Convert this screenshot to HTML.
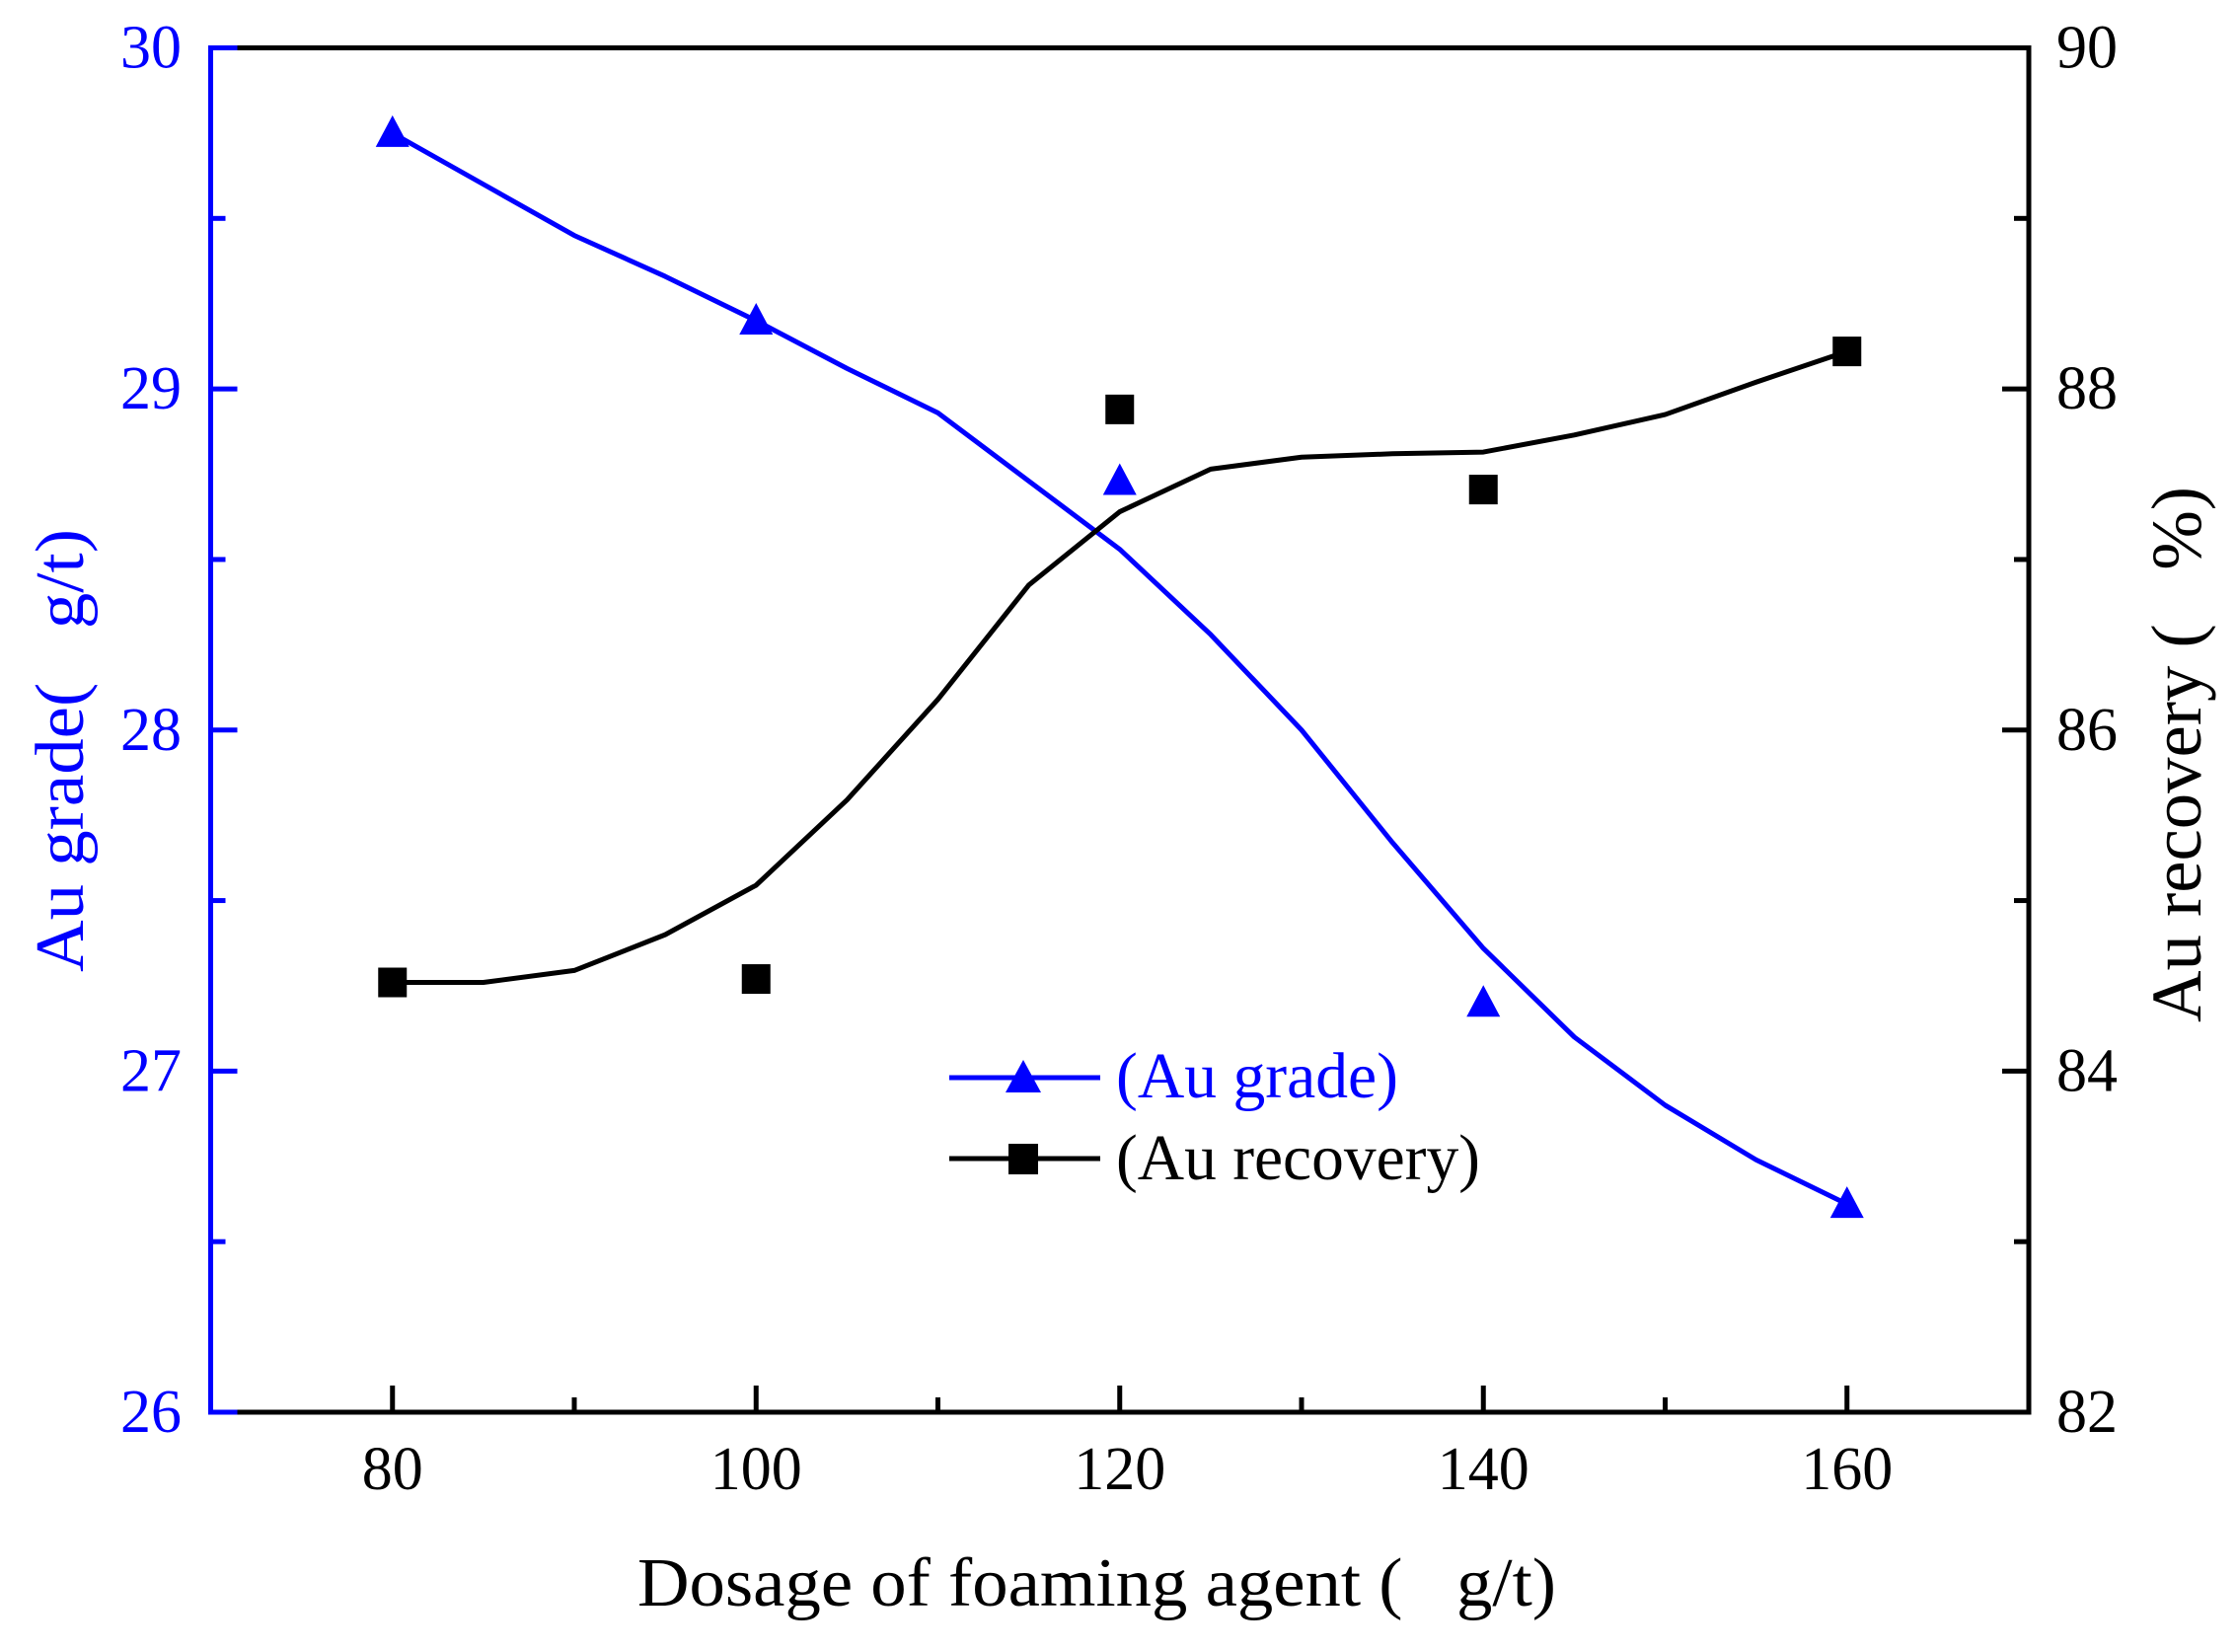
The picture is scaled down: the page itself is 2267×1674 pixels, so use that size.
<!DOCTYPE html>
<html><head><meta charset="utf-8"><style>html,body{margin:0;padding:0;background:#fff}svg{display:block}text{white-space:pre}</style></head>
<body>
<svg id="chart" width="2267" height="1674" viewBox="0 0 2267 1674" xmlns="http://www.w3.org/2000/svg" font-family="'Liberation Serif', serif">
<g id="marks"></g>
<g id="axes"></g>
<g id="legend">
  <line x1="962" y1="1092" x2="1115" y2="1092" stroke="#0000ff" stroke-width="5"/>
  <polygon points="1037,1074 1055,1107 1019,1107" fill="#0000ff"/>
  <text x="1131" y="1112" font-size="66" fill="#0000ff" textLength="286" lengthAdjust="spacingAndGlyphs">(Au grade)</text>
  <line x1="962" y1="1174" x2="1115" y2="1174" stroke="#000" stroke-width="5"/>
  <rect x="1022" y="1159" width="30" height="31" fill="#000"/>
  <text x="1131" y="1195" font-size="66" fill="#000" textLength="369" lengthAdjust="spacingAndGlyphs">(Au recovery)</text>
</g>
<text x="646" y="1627" font-size="70" textLength="931" lengthAdjust="spacingAndGlyphs">Dosage of foaming agent (   g/t)</text>
<text transform="translate(84,985) rotate(-90)" font-size="70" fill="#0000ff" textLength="449" lengthAdjust="spacingAndGlyphs">Au grade(   g/t)</text>
<text transform="translate(2230,1036) rotate(-90)" font-size="72" fill="#000" textLength="543" lengthAdjust="spacingAndGlyphs">Au recovery (   %)</text>
</svg>
<script>
// data
const dosage = [80, 100, 120, 140, 160];
const grade = [29.75, 29.20, 28.73, 27.20, 26.61];
const recovery = [84.52, 84.54, 87.88, 87.41, 88.22];
const fitX = [80, 85, 90, 95, 100, 105, 110, 115, 120, 125, 130, 135, 140, 145, 150, 155, 160];
const gradeFit = [29.75, 29.60, 29.45, 29.33, 29.20, 29.06, 28.93, 28.73, 28.53, 28.28, 28.00, 27.67, 27.36, 27.10, 26.90, 26.74, 26.61];
const recoveryFit = [84.52, 84.52, 84.59, 84.80, 85.09, 85.59, 86.18, 86.85, 87.28, 87.53, 87.60, 87.62, 87.63, 87.73, 87.85, 88.04, 88.22];
const xTicks = [80, 100, 120, 140, 160];
const xMinor = [90, 110, 130, 150];
const leftTicks = [26, 27, 28, 29, 30];
const leftMinor = [26.5, 27.5, 28.5, 29.5];
const rightTicks = [82, 84, 86, 88, 90];
const rightMinor = [83, 85, 87, 89];

const L = 213.5, R = 2056, T = 48.5, B = 1431;
const xS = v => L + (v - 70) / 100 * (R - L);
const yL = v => B - (v - 26) / 4 * (B - T);
const yR = v => B - (v - 82) / 8 * (B - T);
const NS = 'http://www.w3.org/2000/svg';
function mk(tag, attrs, parent) {
  const e = document.createElementNS(NS, tag);
  for (const k in attrs) e.setAttribute(k, attrs[k]);
  parent.appendChild(e);
  return e;
}
const marks = document.getElementById('marks');
const axes = document.getElementById('axes');

let p1 = mk('polyline', {points: fitX.map((x, i) => xS(x) + ',' + yL(gradeFit[i])).join(' '), fill: 'none', stroke: '#0000ff', 'stroke-width': 5, 'stroke-linejoin': 'round'}, marks);


let p2 = mk('polyline', {points: fitX.map((x, i) => xS(x) + ',' + yR(recoveryFit[i])).join(' '), fill: 'none', stroke: '#000', 'stroke-width': 5, 'stroke-linejoin': 'round'}, marks);



dosage.forEach((d, i) => {
  const cx = xS(d), cy = yL(grade[i]);
  const t = mk('polygon', {points: `${cx},${cy-18} ${cx+17},${cy+14} ${cx-17},${cy+14}`, fill: '#0000ff'}, marks);
  
  
  const ry = yR(recovery[i]);
  const s = mk('rect', {x: cx - 14.5, y: ry - 15, width: 29, height: 30, fill: '#000'}, marks);
  
  
});

let fr = mk('path', {d: `M${L},${T} H${R} V${B} H${L}`, fill: 'none', stroke: '#000', 'stroke-width': 5}, axes);


let la = mk('line', {x1: L, y1: T - 2.5, x2: L, y2: B + 2.5, stroke: '#0000ff', 'stroke-width': 5}, axes);



xTicks.forEach(v => {
  const l = mk('line', {x1: xS(v), y1: B, x2: xS(v), y2: B - 27, stroke: '#000', 'stroke-width': 5}, axes);
  
  
  const t = mk('text', {x: xS(v), y: 1509, 'font-size': 62, 'text-anchor': 'middle'}, axes);
  t.textContent = v;
  
  
});
xMinor.forEach(v => {
  const l = mk('line', {x1: xS(v), y1: B, x2: xS(v), y2: B - 15, stroke: '#000', 'stroke-width': 5}, axes);
  
  
});
leftTicks.forEach(v => {
  const l = mk('line', {x1: L, y1: yL(v), x2: L + 27, y2: yL(v), stroke: '#0000ff', 'stroke-width': 5}, axes);
  
  
  const t = mk('text', {x: 184, y: yL(v) + 20, 'font-size': 62, 'text-anchor': 'end', fill: '#0000ff'}, axes);
  t.textContent = v;
  
  
});
leftMinor.forEach(v => {
  const l = mk('line', {x1: L, y1: yL(v), x2: L + 15, y2: yL(v), stroke: '#0000ff', 'stroke-width': 5}, axes);
  
  
});
rightTicks.forEach(v => {
  const l = mk('line', {x1: R, y1: yR(v), x2: R - 27, y2: yR(v), stroke: '#000', 'stroke-width': 5}, axes);
  
  
  const t = mk('text', {x: 2084, y: yR(v) + 20, 'font-size': 62, fill: '#000'}, axes);
  t.textContent = v;
  
  
});
rightMinor.forEach(v => {
  const l = mk('line', {x1: R, y1: yR(v), x2: R - 15, y2: yR(v), stroke: '#000', 'stroke-width': 5}, axes);
  
  
});
</script>
</body></html>
